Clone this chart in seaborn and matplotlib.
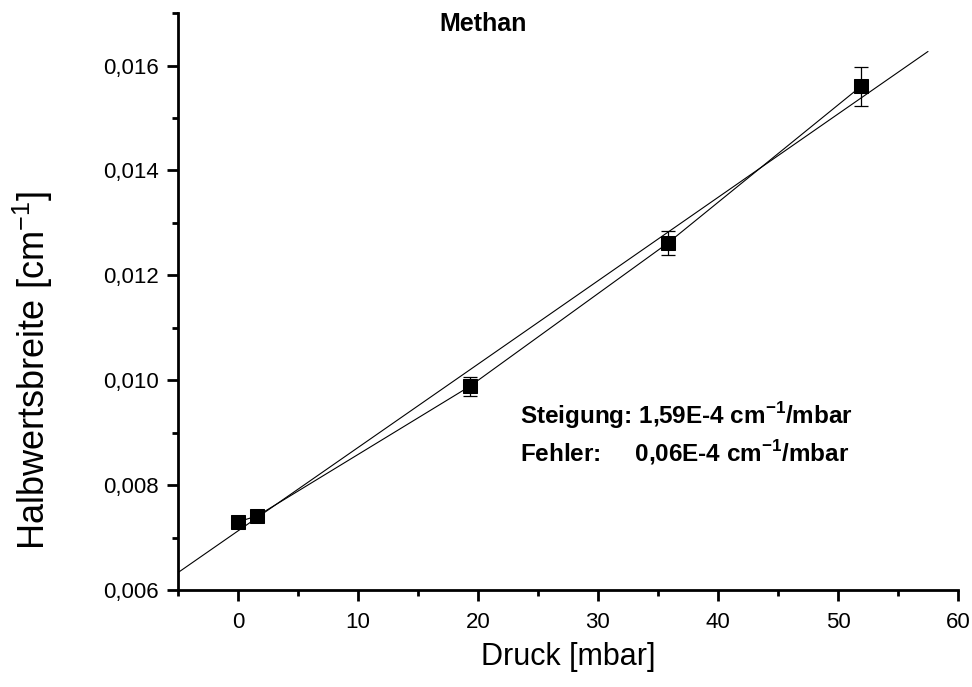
import numpy as np
import pandas as pd
import matplotlib
matplotlib.use("Agg")
import matplotlib.pyplot as plt
import seaborn as sns

druck = [0.0, 1.6, 19.3, 35.8, 51.9]
halbwertsbreite = [0.00730, 0.00741, 0.00988, 0.01261, 0.01560]
fehler = [0.00008, 0.00010, 0.00018, 0.00023, 0.00038]

# lineare Regression
steigung = 1.59e-4
achsenabschnitt = 0.007125
fit_bereich = [-5.0, 57.5]

x_ticks = [0, 10, 20, 30, 40, 50, 60]
y_ticks = [0.006, 0.008, 0.010, 0.012, 0.014, 0.016]

df = pd.DataFrame({"druck": druck, "breite": halbwertsbreite, "fehler": fehler})
fit_x = np.array(fit_bereich)
df_fit = pd.DataFrame({"druck": fit_x, "breite": achsenabschnitt + steigung * fit_x})

sns.set_style("ticks")
plt.rcParams["font.family"] = ["Liberation Sans", "DejaVu Sans"]
plt.rcParams["mathtext.fontset"] = "custom"
plt.rcParams["mathtext.rm"] = "Liberation Sans"
plt.rcParams["mathtext.bf"] = "Liberation Sans:bold"
for k in ["text.color", "axes.labelcolor", "xtick.color", "ytick.color", "axes.edgecolor"]:
    plt.rcParams[k] = "black"

fig = plt.figure(figsize=(9.72, 6.87), dpi=100)
ax = fig.add_axes([0.183, 0.1412, 0.8026, 0.8398])

sns.lineplot(data=df_fit, x="druck", y="breite", ax=ax, color="black", lw=0.8)
sns.lineplot(data=df, x="druck", y="breite", ax=ax, color="black", lw=0.8,
             marker="s", markersize=10, markeredgecolor="black")
ax.errorbar(df["druck"], df["breite"], yerr=df["fehler"], fmt="none",
            ecolor="black", elinewidth=0.9, capsize=5, capthick=0.9)

ax.set_xlim(-5, 60)
ax.set_ylim(0.006, 0.017)
ax.set_xticks(x_ticks)
ax.set_xticks(np.arange(-5, 60, 5), minor=True)
ax.set_yticks(y_ticks)
ax.set_yticks(np.arange(0.006, 0.0171, 0.001), minor=True)
ax.set_xticklabels([str(v) for v in x_ticks])
ax.set_yticklabels([f"{v:.3f}".replace(".", ",") for v in y_ticks])

for s in ["top", "right"]:
    ax.spines[s].set_visible(False)
for s in ["left", "bottom"]:
    ax.spines[s].set_linewidth(2.0)
ax.tick_params(which="major", direction="out", length=8, width=2.0, labelsize=16)
ax.tick_params(axis="x", which="major", pad=8)
ax.tick_params(axis="y", which="major", pad=6)
ax.tick_params(which="minor", direction="out", length=4, width=2.0)

ax.set_xlabel("Druck [mbar]", fontsize=22)
ax.set_ylabel(r"Halbwertsbreite [cm$^{-1}$]", fontsize=26)
ax.xaxis.set_label_coords(0.5, -0.09)
ax.yaxis.set_label_coords(-0.158, 0.38)

fig.text(0.497, 0.965, "Methan", ha="center", va="center",
         fontsize=18, fontweight="bold")
ax.text(23.5, 0.00932, r"Steigung: 1,59E-4 cm$^{\mathbf{-1}}$/mbar",
        fontsize=17.5, fontweight="bold", va="center")
ax.text(23.5, 0.00862, r"Fehler:     0,06E-4 cm$^{\mathbf{-1}}$/mbar",
        fontsize=17.5, fontweight="bold", va="center")

fig.savefig("out.png", dpi=100)
